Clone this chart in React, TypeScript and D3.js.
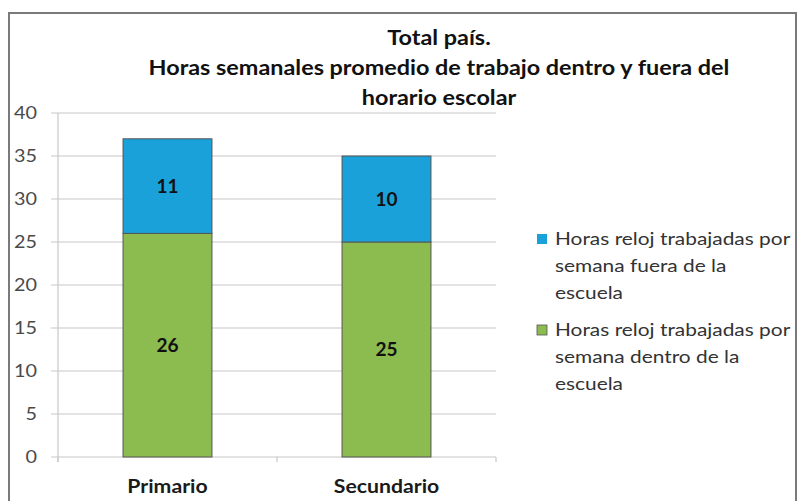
import React from 'react';
import * as d3 from 'd3';

const categories = ['Primario', 'Secundario'];
const dentro = [26, 25];
const fuera = [11, 10];
const yTicks = [0, 5, 10, 15, 20, 25, 30, 35, 40];
const titleLines = ['Total país.', 'Horas semanales promedio de trabajo dentro y fuera del', 'horario escolar'];
const legendItems = [
  { lines: ['Horas reloj trabajadas por', 'semana fuera de la', 'escuela'], color: '#1ba1d9' },
  { lines: ['Horas reloj trabajadas por', 'semana dentro de la', 'escuela'], color: '#8cbb4f' }
];

const W = 801;
const H = 501;
const FONT = 'Lato, "Open Sans", sans-serif';

export default function App() {
  const x = d3.scaleBand<string>()
    .domain(categories)
    .range([58, 496])
    .paddingInner(0.594)
    .paddingOuter(0.297);
  const y = d3.scaleLinear().domain([0, 40]).range([457, 113]);

  const rows = categories.map((c, i) => ({ cat: c, dentro: dentro[i], fuera: fuera[i] }));
  const stack = d3.stack<any>().keys(['dentro', 'fuera'])(rows);
  const colors: Record<string, string> = { dentro: '#8cbb4f', fuera: '#1ba1d9' };

  const step = x.step();
  const catTicks = [58, 58 + step, 58 + 2 * step];

  return (
    <svg width={W} height={H} style={{ position: 'absolute', left: 0, top: 0 }} fontFamily={FONT}>
      <rect x={0} y={0} width={W} height={H} fill="#fff" />
      <rect x={9} y={13} width={787} height={520} fill="#fff" stroke="#7a7a7a" strokeWidth={2} />

      {/* the original font is wider than Lato, stretch text a bit */}
      {titleLines.map((t, i) => (
        <text key={i} transform={`translate(439, ${45 + i * 30}) scale(1.17, 1)`} textAnchor="middle"
          fontSize={20} fontWeight="bold" fill="#111">{t}</text>
      ))}

      {yTicks.map(t => (
        <g key={t}>
          <line x1={51} x2={496} y1={y(t)} y2={y(t)} stroke="#c8c8c8" strokeWidth={1.2} />
          <text transform={`translate(37, ${y(t)}) scale(1.1, 1)`} dy="0.35em" textAnchor="end"
            fontSize={18} fill="#4a4a4a">{t}</text>
        </g>
      ))}
      <line x1={58} x2={58} y1={y(40)} y2={y(0) + 5} stroke="#c8c8c8" strokeWidth={1.2} />
      {catTicks.map((tx, i) => (
        <line key={i} x1={tx} x2={tx} y1={y(0)} y2={y(0) + 5} stroke="#c8c8c8" strokeWidth={1.2} />
      ))}

      {stack.map(series => series.map((d, i) => {
        const bx = x(categories[i]) as number;
        const y0 = y(d[0]);
        const y1 = y(d[1]);
        return (
          <g key={series.key + i}>
            <rect x={bx} y={y1} width={x.bandwidth()} height={y0 - y1}
              fill={colors[series.key]} stroke="#555" strokeWidth={1} />
            <text x={bx + x.bandwidth() / 2} y={(y0 + y1) / 2} dy="0.35em" textAnchor="middle"
              fontSize={19} fontWeight="bold" fill="#111">{d[1] - d[0]}</text>
          </g>
        );
      }))}

      {categories.map(c => (
        <text key={c} transform={`translate(${(x(c) as number) + x.bandwidth() / 2}, 487) scale(1.18, 1)`}
          dy="0.35em" textAnchor="middle" fontSize={18} fontWeight="bold" fill="#1a1a1a">{c}</text>
      ))}

      {legendItems.map((item, i) => (
        <g key={i} transform={`translate(537, ${239 + i * 91})`}>
          <rect x={0} y={-5} width={10} height={10} fill={item.color} stroke={i === 1 ? '#555' : 'none'} strokeWidth={0.8} />
          {item.lines.map((l, j) => (
            <text key={j} transform={`translate(18, ${j * 27}) scale(1.16, 1)`} dy="0.35em"
              fontSize={18} fill="#333">{l}</text>
          ))}
        </g>
      ))}
    </svg>
  );
}
